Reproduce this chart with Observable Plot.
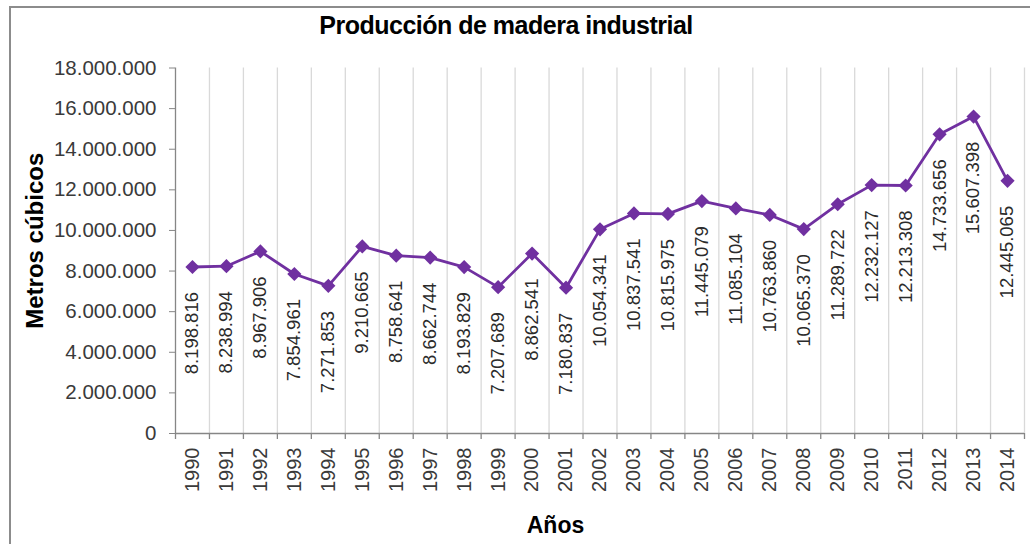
<!DOCTYPE html>
<html>
<head>
<meta charset="utf-8">
<script src="https://cdn.jsdelivr.net/npm/d3@7"></script>
<script src="https://cdn.jsdelivr.net/npm/@observablehq/plot@0.6"></script>
<style>
  html, body { margin: 0; padding: 0; background: #fff; overflow: hidden; }
  #wrap { position: relative; width: 1030px; height: 544px; overflow: hidden; }
  #frame { position: absolute; left: 9px; top: 6px; width: 1100px; height: 700px; border: 2px solid #8c8c8c; box-sizing: border-box; pointer-events: none; }
  svg { font-family: "Liberation Sans", Arial, sans-serif; }
</style>
</head>
<body>
<div id="wrap"><div id="frame"></div></div>
<script>
const titleText = "Producción de madera industrial";
const yLabel = "Metros cúbicos";
const xLabel = "Años";
const years = [1990, 1991, 1992, 1993, 1994, 1995, 1996, 1997, 1998, 1999, 2000, 2001, 2002, 2003, 2004, 2005, 2006, 2007, 2008, 2009, 2010, 2011, 2012, 2013, 2014];
const values = [8198816, 8238994, 8967906, 7854961, 7271853, 9210665, 8758641, 8662744, 8193829, 7207689, 8862541, 7180837, 10054341, 10837541, 10815975, 11445079, 11085104, 10763860, 10065370, 11289722, 12232127, 12213308, 14733656, 15607398, 12445065];
const yTicks = [0, 2000000, 4000000, 6000000, 8000000, 10000000, 12000000, 14000000, 16000000, 18000000];

const fmt = d3.formatLocale({decimal: ",", thousands: ".", grouping: [3], currency: ["", ""]}).format(",d");
const data = years.map((y, i) => ({year: y, value: values[i]}));
const bounds = years.map(y => y + 0.5);
const allBounds = [years[0] - 0.5, ...bounds];

const purple = "#7030A0";
const axisGray = "#868686";

const chart = Plot.plot({
  width: 1030,
  height: 544,
  marginTop: 67.5,
  marginBottom: 111,
  marginLeft: 175,
  marginRight: 6,
  style: {fontFamily: "'Liberation Sans', Arial, sans-serif", background: "transparent", overflow: "visible"},
  x: {type: "linear", domain: [years[0] - 0.5, years[years.length - 1] + 0.5], axis: null},
  y: {domain: [0, 18000000], axis: null},
  marks: [
    Plot.ruleX(bounds, {x: d => d, y1: 0, y2: 18000000, stroke: "#d9d9d9", strokeWidth: 1.3}),
    Plot.ruleX(allBounds, {x: d => d, y1: 0, y2: 0, insetBottom: -6, stroke: axisGray, strokeWidth: 1.3}),
    Plot.ruleX([years[0] - 0.5], {x: d => d, y1: 0, y2: 18000000, stroke: axisGray, strokeWidth: 1.3}),
    Plot.ruleY([0], {y: d => d, x1: years[0] - 0.5, x2: years[years.length - 1] + 0.5, stroke: axisGray, strokeWidth: 1.3}),
    Plot.axisY(yTicks, {
      ticks: yTicks, tickFormat: d => fmt(d), tickSize: 6, tickPadding: 13,
      stroke: axisGray, fill: "#3a3a3a", fontSize: 20.5, label: null
    }),
    Plot.text(years, {x: d => d, y: () => 0, text: d => String(d), rotate: -90, textAnchor: "end", dy: 14, fontSize: 20, fill: "#3a3a3a"}),
    Plot.line(data, {x: "year", y: "value", stroke: purple, strokeWidth: 2.8}),
    Plot.dot(data, {x: "year", y: "value", symbol: "diamond2", r: 6.4, fill: purple, stroke: "none"}),
    Plot.text(data, {x: "year", y: "value", text: d => fmt(d.value), rotate: -90, textAnchor: "end", dy: 25, fontSize: 18.5, fill: "#2b2b2b"}),
    Plot.text([titleText], {frameAnchor: "top", text: d => d, textAnchor: "middle", lineAnchor: "middle", dx: -94, dy: -42, fontSize: 25, fontWeight: "bold", fill: "#000"}),
    Plot.text([yLabel], {frameAnchor: "left", text: d => d, textAnchor: "middle", lineAnchor: "middle", rotate: -90, dx: -140, dy: -10, fontSize: 24, fontWeight: "bold", fill: "#000"}),
    Plot.text([xLabel], {frameAnchor: "bottom", text: d => d, textAnchor: "middle", lineAnchor: "middle", dx: -44.5, dy: 92, fontSize: 23, fontWeight: "bold", fill: "#000"})
  ]
});
chart.querySelectorAll("text").forEach(t => { if (t.textContent === titleText) t.setAttribute("letter-spacing", "-0.5"); });
document.getElementById("wrap").prepend(chart);
</script>
</body>
</html>
